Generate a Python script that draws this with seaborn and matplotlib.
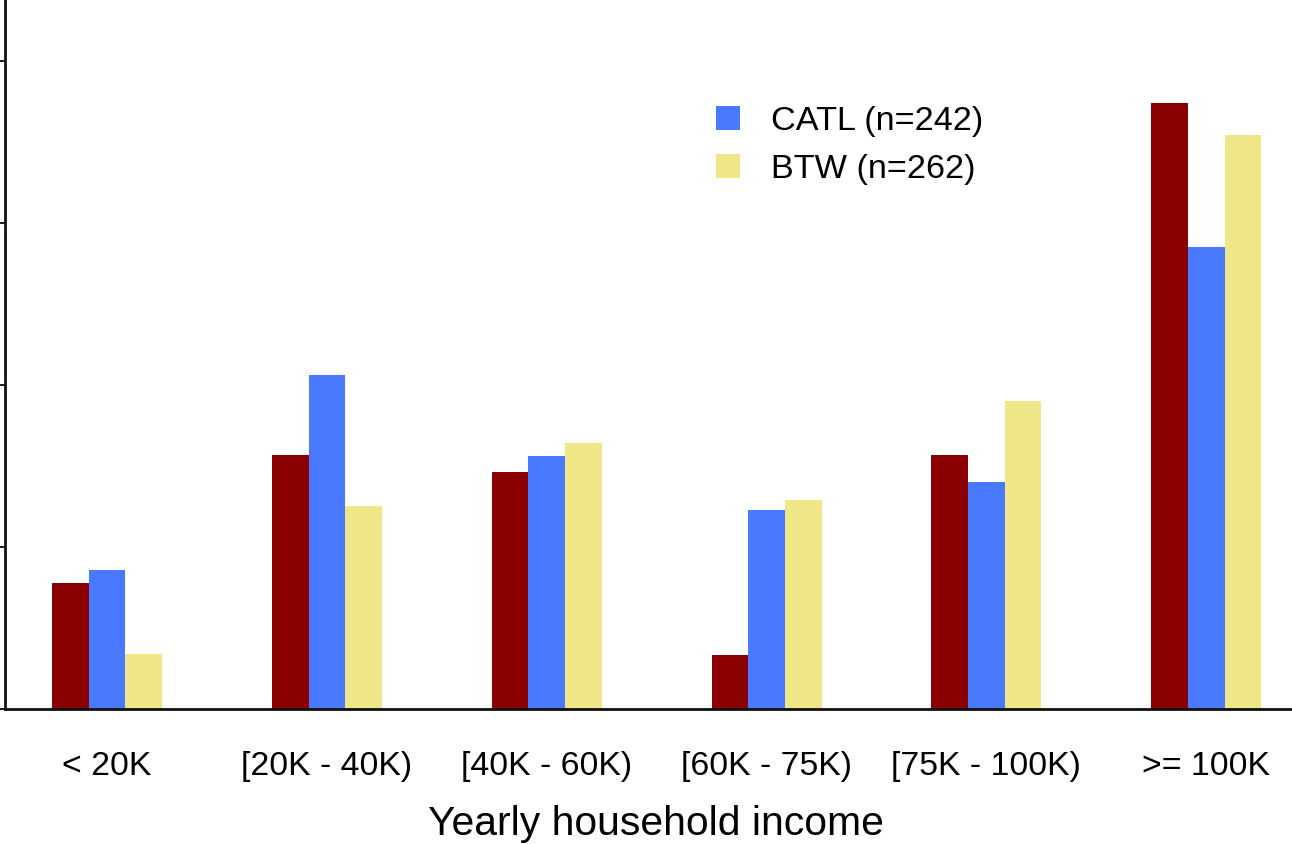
import matplotlib
matplotlib.use('Agg')
import matplotlib.pyplot as plt
import seaborn as sns
import pandas as pd

# income brackets and shares per group
categories = ['< 20K', '[20K - 40K)', '[40K - 60K)', '[60K - 75K)', '[75K - 100K)', '>= 100K']
reference = [3.9, 7.85, 7.3, 1.65, 7.85, 18.7]
catl = [4.3, 10.3, 7.8, 6.15, 7.0, 14.25]
btw = [1.7, 6.25, 8.2, 6.45, 9.5, 17.7]

series_names = ['Reference', 'CATL (n=242)', 'BTW (n=262)']
colors = ['#8b0000', '#4979ff', '#efe688']

rows = []
for name, vals in zip(series_names, [reference, catl, btw]):
    for cat, v in zip(categories, vals):
        rows.append({'income': cat, 'value': v, 'group': name})
df = pd.DataFrame(rows)

sns.set_style('white')
plt.rcParams['font.family'] = ['Liberation Sans', 'DejaVu Sans']
plt.rcParams['text.color'] = 'black'
plt.rcParams['axes.labelcolor'] = 'black'
plt.rcParams['xtick.color'] = 'black'
plt.rcParams['ytick.color'] = 'black'

fig = plt.figure(figsize=(12.92, 8.44), dpi=100)
ax = fig.add_axes([0.0039, 0.16, 0.9961, 0.84])

sns.barplot(data=df, x='income', y='value', hue='group', palette=colors,
            width=0.5, saturation=1, linewidth=0, ax=ax, legend=True)

ax.set_xlim(-0.4636, 5.39)
ax.set_ylim(0, 21.88)
ax.set_yticks([0, 5, 10, 15, 20])
ax.set_yticklabels([])
ax.set_ylabel('')
ax.set_xlabel('Yearly household income', fontsize=29.4)
ax.xaxis.set_label_coords(0.506, -0.135)

ax.tick_params(axis='y', direction='out', length=4, width=1.5, color='#222222', left=True)
ax.tick_params(axis='x', length=0, labelsize=24.4, pad=30)

sns.despine(ax=ax, top=True, right=True)
for s in ['left', 'bottom']:
    ax.spines[s].set_linewidth(2)
    ax.spines[s].set_color('#111111')

# legend only for the two survey samples
handles, labels = ax.get_legend_handles_labels()
ax.legend(handles[1:], labels[1:], loc='upper left', bbox_to_anchor=(0.554, 0.875),
          bbox_transform=fig.transFigure, frameon=False, fontsize=24.7,
          handlelength=0.71, handleheight=0.7, handletextpad=0.9,
          labelspacing=0.5, borderpad=0, borderaxespad=0)

fig.savefig('out.png', dpi=100)
